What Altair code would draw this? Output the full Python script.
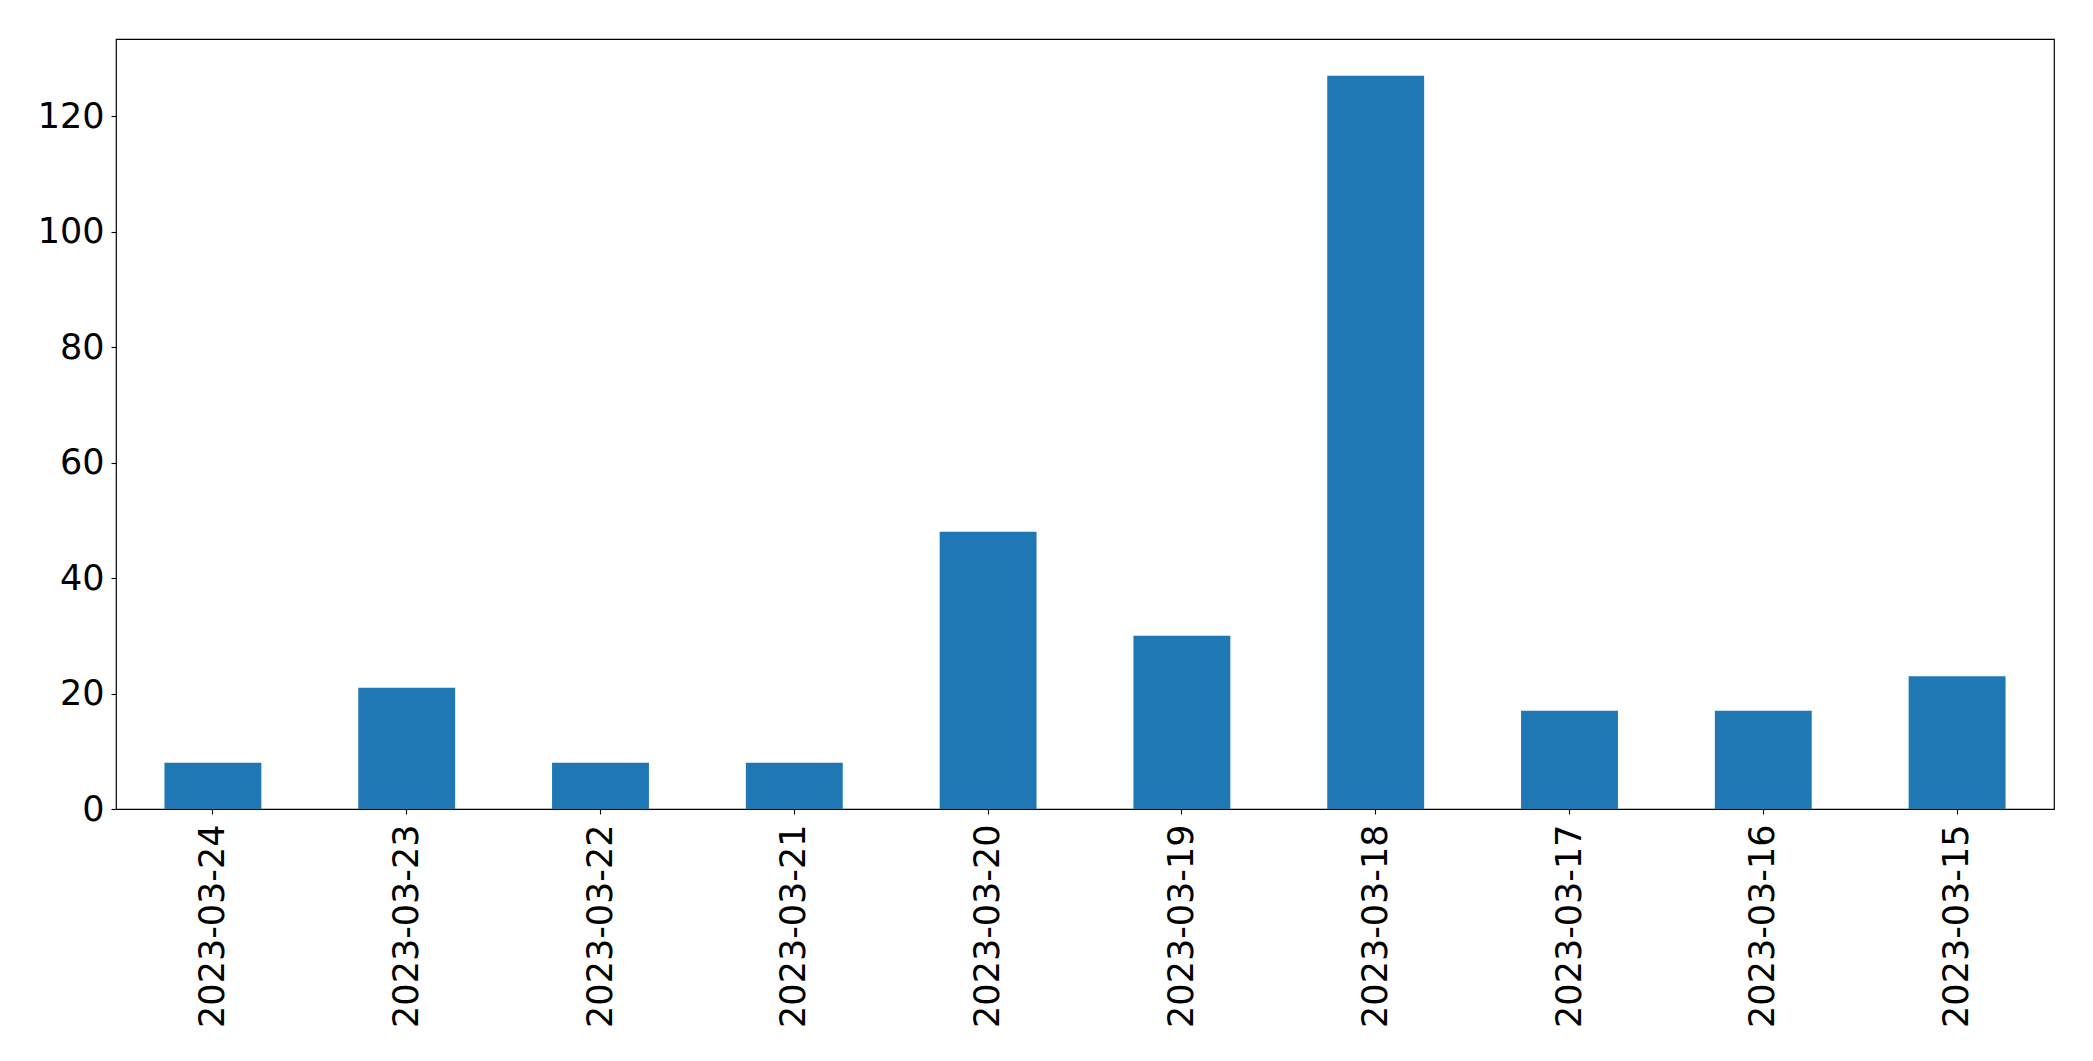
import altair as alt
import pandas as pd

dates = ["2023-03-24", "2023-03-23", "2023-03-22", "2023-03-21", "2023-03-20",
         "2023-03-19", "2023-03-18", "2023-03-17", "2023-03-16", "2023-03-15"]
counts = [8, 21, 8, 8, 48, 30, 127, 17, 17, 23]
y_ticks = [0, 20, 40, 60, 80, 100, 120]

df = pd.DataFrame({"date": dates, "count": counts})

chart = alt.Chart(df).mark_bar(color="#1f77b4").encode(
    x=alt.X("date:N", sort=dates, title=None,
            scale=alt.Scale(paddingInner=0.5, paddingOuter=0.25),
            axis=alt.Axis(labelAngle=-90, labelFont="DejaVu Sans", labelFontSize=35,
                          labelColor="black", tickColor="black", tickSize=5,
                          tickWidth=1.1, labelPadding=10, domain=False, labelBaseline="middle",
                          labelAlign="right", labelLimit=0)),
    y=alt.Y("count:Q", title=None,
            scale=alt.Scale(domain=[0, 133.35], nice=False, zero=True),
            axis=alt.Axis(values=y_ticks, grid=False, labelFont="DejaVu Sans",
                          labelFontSize=35, labelColor="black", tickColor="black",
                          tickSize=5, tickWidth=1.1, labelPadding=7, domain=False)),
).properties(
    width=1938, height=770,
    background="white",
    autosize=alt.AutoSizeParams(type="none"),
    padding={"left": 108, "top": 31, "right": 20, "bottom": 230},
).configure_view(stroke="black", strokeWidth=1.2)

chart.save("out.html", embed_options={"renderer": "svg", "actions": False})
